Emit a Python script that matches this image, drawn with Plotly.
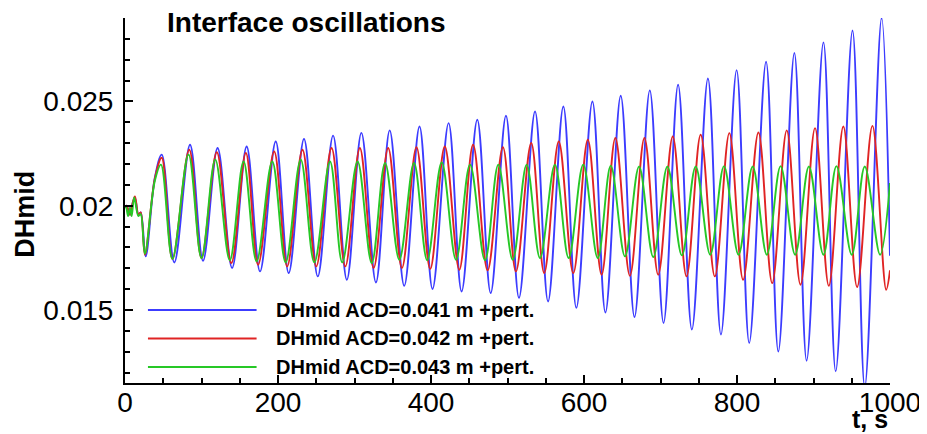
####### IMPORTS #######
import plotly.graph_objects as go
####### IMPORTS #######

####### DADOS #######
# Extremos (picos e vales), t em segundos.
# A curva entre eles eh suavizada pelo proprio plotly (line_shape="spline").

# ACD = 0.041 m (azul)
tempo_041 = [0, 2, 6.5, 10, 13, 17.5, 20.5, 27, 39, 48, 64.5, 85, 102, 121, 140, 159, 176.5,
             197, 214, 234, 252, 272, 290, 309, 328, 346, 365, 385, 402, 423, 440, 460.5,
             478, 498, 515, 536, 553, 573, 590, 611, 628, 648, 666, 686, 704, 723, 741,
             762, 779, 799.5, 816, 838, 854, 875, 891, 913, 929, 951, 967, 989, 1000]
dh_041 = [0.0199, 0.0200, 0.01957, 0.02013, 0.02037, 0.01957, 0.01968, 0.01757, 0.02134,
          0.02245, 0.01728, 0.02292, 0.01736, 0.02277, 0.01701, 0.02284, 0.01685,
          0.02308, 0.01677, 0.02320, 0.01661, 0.02336, 0.01645, 0.02349, 0.01632,
          0.02361, 0.01616, 0.02380, 0.01601, 0.02396, 0.01589, 0.02412, 0.01581,
          0.02431, 0.01558, 0.02452, 0.01541, 0.02476, 0.01510, 0.02500, 0.01488,
          0.02527, 0.01466, 0.02553, 0.01438, 0.02580, 0.01406, 0.02610, 0.01382,
          0.02650, 0.01342, 0.02690, 0.01301, 0.02732, 0.01257, 0.02783, 0.01206,
          0.02840, 0.01130, 0.02900, 0.01760]

# ACD = 0.042 m (vermelho)
tempo_042 = [0, 2, 6.5, 10, 13, 17.5, 20.5, 26, 39, 48, 62, 84, 100, 120, 139, 158, 174,
             195, 212, 232, 250, 270, 288, 307, 325, 344, 362, 381, 399, 418, 437, 455,
             474, 494, 511, 531, 548, 567, 586, 605, 623, 641, 660, 679, 697, 716, 734,
             752.5, 771, 790, 808, 828, 846, 865, 883, 902, 920, 939, 957, 977, 995, 1000]
dh_042 = [0.0199, 0.0200, 0.01957, 0.02013, 0.02045, 0.01957, 0.01968, 0.01765, 0.02130,
          0.02230, 0.01745, 0.02268, 0.01749, 0.02256, 0.01725, 0.02253, 0.01717,
          0.02260, 0.01709, 0.02268, 0.01709, 0.02277, 0.01709, 0.02277, 0.01701,
          0.02277, 0.01701, 0.02281, 0.01697, 0.02284, 0.01693, 0.02292, 0.01690,
          0.02281, 0.01685, 0.02301, 0.01677, 0.02308, 0.01677, 0.02316, 0.01669,
          0.02325, 0.01664, 0.02325, 0.01669, 0.02332, 0.01661, 0.02340, 0.01661,
          0.02348, 0.01645, 0.02351, 0.01629, 0.02361, 0.01621, 0.02372, 0.01616,
          0.02380, 0.01610, 0.02383, 0.01597, 0.01690]

# ACD = 0.043 m (verde)
tempo_043 = [0, 1.3, 4, 6.5, 8.7, 12, 17.5, 20.5, 26, 39, 47, 62, 83, 100, 118, 137, 155,
             172, 192.5, 210, 229.7, 247.5, 268, 284, 304, 322.5, 340, 358.6, 377.8, 395,
             414, 432.7, 451, 470.6, 488, 506.8, 525, 542.5, 562, 580, 599, 618, 635,
             653.6, 672, 690.6, 709, 728, 746, 765, 783, 802, 820.5, 839, 857, 876, 894,
             913, 930, 950, 967, 987, 1000]
dh_043 = [0.0199, 0.01994, 0.0195, 0.0199, 0.0195, 0.0204, 0.0195, 0.0196, 0.0177, 0.0212,
          0.02197, 0.01745, 0.02245, 0.01749, 0.02221, 0.01738, 0.02212, 0.01733,
          0.02212, 0.01728, 0.02221, 0.01728, 0.02212, 0.01728, 0.02212, 0.01725,
          0.02205, 0.01741, 0.02205, 0.01738, 0.02208, 0.01741, 0.02197, 0.01738,
          0.02197, 0.01741, 0.02197, 0.01749, 0.02197, 0.01749, 0.02197, 0.01749,
          0.02192, 0.01757, 0.02188, 0.01754, 0.02188, 0.01762, 0.02188, 0.01765,
          0.02190, 0.01765, 0.02188, 0.01765, 0.02190, 0.01765, 0.02188, 0.01765,
          0.02190, 0.01765, 0.02188, 0.01765, 0.02109]

nomes = ["DHmid ACD=0.041 m +pert.",
         "DHmid ACD=0.042 m +pert.",
         "DHmid ACD=0.043 m +pert."]
cores = ["#3c3cff", "#e02424", "#26c826"]
####### DADOS #######

####### GRAFICO #######
fonte = "Arial, Liberation Sans, sans-serif"

fig = go.Figure()
series = [(tempo_041, dh_041), (tempo_042, dh_042), (tempo_043, dh_043)]
for (t, dh), nome, cor in zip(series, nomes, cores):
    fig.add_trace(go.Scatter(x=t, y=dh, mode="lines", name=nome,
                             line=dict(color=cor, width=1.9, shape="spline", smoothing=1.0)))

# Legenda desenhada a mao (linha longa como no original)
legenda_y = [0.200, 0.122, 0.044]
for nome, cor, yy in zip(nomes, cores, legenda_y):
    fig.add_shape(type="line", xref="paper", yref="paper",
                  x0=0.030, x1=0.172, y0=yy, y1=yy,
                  line=dict(color=cor, width=1.9))
    fig.add_annotation(text="<b>" + nome + "</b>", xref="paper", yref="paper",
                       x=0.195, y=yy, xanchor="left", yanchor="middle", showarrow=False,
                       font=dict(family=fonte, size=20, color="black"))

# Titulo e rotulos dos eixos
fig.add_annotation(text="<b>Interface oscillations</b>", xref="paper", yref="paper",
                   x=0.052, y=0.989, xanchor="left", yanchor="middle", showarrow=False,
                   font=dict(family=fonte, size=28, color="black"))
fig.add_annotation(text="<b>DHmid</b>", xref="paper", yref="paper", textangle=-90,
                   x=-0.131, y=0.463, xanchor="center", yanchor="middle", showarrow=False,
                   font=dict(family=fonte, size=27, color="black"))
fig.add_annotation(text="<b>t, s</b>", xref="paper", yref="paper",
                   x=1.0, y=-0.099, xanchor="right", yanchor="middle", showarrow=False,
                   font=dict(family=fonte, size=25, color="black"))

# A pagina tem margem de 8 px no body: a figura fica 8 px menor e deslocada
fig.update_layout(
    width=919, height=426,
    margin=dict(l=117, r=37, t=10, b=51),
    plot_bgcolor="white", paper_bgcolor="white",
    showlegend=False,
    font=dict(family=fonte, size=28, color="black"),
)
fig.update_xaxes(range=[0, 1000], dtick=200, tick0=0, showgrid=False, zeroline=False,
                 automargin=False,
                 showline=True, linecolor="black", linewidth=2,
                 ticks="inside", ticklen=8, tickwidth=1.5, tickcolor="black",
                 ticklabelstandoff=-7,
                 minor=dict(ticks="inside", ticklen=5, dtick=50, tickcolor="black", showgrid=False),
                 tickfont=dict(family=fonte, size=28, color="black"))
fig.update_yaxes(range=[0.0115, 0.029], dtick=0.005, tick0=0, showgrid=False, zeroline=False,
                 automargin=False,
                 showline=True, linecolor="black", linewidth=2,
                 ticks="inside", ticklen=8, tickwidth=1.5, tickcolor="black",
                 ticklabelstandoff=4,
                 minor=dict(ticks="inside", ticklen=5, dtick=0.001, tickcolor="black", showgrid=False),
                 tickfont=dict(family=fonte, size=28, color="black"))

fig.write_html("out.html")
####### GRAFICO #######
